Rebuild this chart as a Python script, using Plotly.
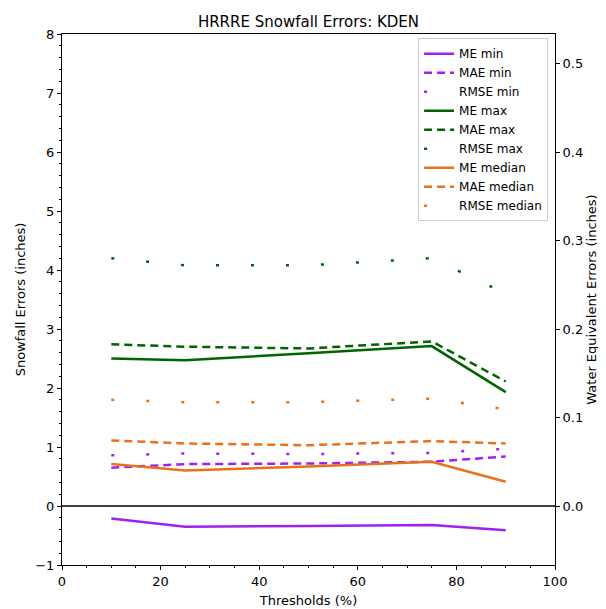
import plotly.graph_objects as go

thresholds = [10, 25, 50, 75, 90]

me_min = [-0.21, -0.35, -0.34, -0.32, -0.41]
mae_min = [0.65, 0.71, 0.72, 0.75, 0.84]
rmse_min = [0.86, 0.89, 0.88, 0.90, 0.97]

me_max = [2.50, 2.47, 2.59, 2.71, 1.93]
mae_max = [2.74, 2.70, 2.67, 2.79, 2.11]
rmse_max = [4.20, 4.08, 4.08, 4.20, 3.60]

me_med = [0.71, 0.60, 0.67, 0.75, 0.41]
mae_med = [1.11, 1.06, 1.03, 1.10, 1.06]
rmse_med = [1.80, 1.76, 1.76, 1.82, 1.64]

series = [
    ("ME min", me_min, "#a020f0", "solid"),
    ("MAE min", mae_min, "#a020f0", "8px,5px"),
    ("RMSE min", rmse_min, "#a020f0", "3px,32px"),
    ("ME max", me_max, "#006400", "solid"),
    ("MAE max", mae_max, "#006400", "8px,5px"),
    ("RMSE max", rmse_max, "#006400", "3px,32px"),
    ("ME median", me_med, "#e8711a", "solid"),
    ("MAE median", mae_med, "#e8711a", "8px,5px"),
    ("RMSE median", rmse_med, "#e8711a", "3px,32px"),
]

font = "DejaVu Sans"
fig = go.Figure()

# zero reference line
fig.add_trace(go.Scatter(x=[0, 100], y=[0, 0], mode="lines",
                         line=dict(color="black", width=1.5), showlegend=False,
                         hoverinfo="skip"))

for name, vals, color, dash in series:
    fig.add_trace(go.Scatter(x=thresholds, y=vals, mode="lines", name=name,
                             line=dict(color=color, width=2.5, dash=dash)))

# invisible trace for the secondary axis
fig.add_trace(go.Scatter(x=[0], y=[0], yaxis="y2", mode="lines",
                         line=dict(width=0), showlegend=False, hoverinfo="skip"))

axis_common = dict(showline=True, linecolor="black", linewidth=1, automargin=False,
                   ticks="outside", ticklen=4, tickcolor="black", showgrid=False,
                   zeroline=False, tickfont=dict(size=13, color="black", family=font))

# the page body has an 8px margin; the figure is sized so the plot lands where the reference has it
W, H = 598, 601
fig.update_layout(
    width=W, height=H,
    margin=dict(l=54, r=51, t=26, b=44),
    paper_bgcolor="white", plot_bgcolor="white",
    font=dict(family=font, color="black", size=13),
    title=dict(text="HRRRE Snowfall Errors: KDEN", x=0.5, xanchor="center",
               xref="paper", yref="container",
               y=1 - 14 / H, yanchor="middle", font=dict(size=15, family=font)),
    xaxis=dict(range=[0, 100], dtick=20, tick0=0, mirror=True,
               title=dict(text="Thresholds (%)", font=dict(size=13), standoff=8),
               minor=dict(dtick=5, ticks="outside", ticklen=2, tickcolor="black"),
               **axis_common),
    yaxis=dict(range=[-1, 8], dtick=1, tick0=0,
               title=dict(text="Snowfall Errors (inches)", font=dict(size=13), standoff=6),
               minor=dict(dtick=0.2, ticks="outside", ticklen=2, tickcolor="black"),
               **axis_common),
    yaxis2=dict(range=[-1 / 15, 8 / 15], dtick=0.1, tick0=0, overlaying="y", side="right",
                tickformat=".1f",
                title=dict(text="Water Equivalent Errors (inches)", font=dict(size=13), standoff=4),
                **axis_common),
    legend=dict(x=0.986, y=0.992, xanchor="right", yanchor="top",
                bgcolor="rgba(255,255,255,0.9)", bordercolor="#cccccc", borderwidth=1,
                font=dict(size=12, family=font), tracegroupgap=0, itemwidth=30),
    showlegend=True,
)

fig.write_html("out.html")
